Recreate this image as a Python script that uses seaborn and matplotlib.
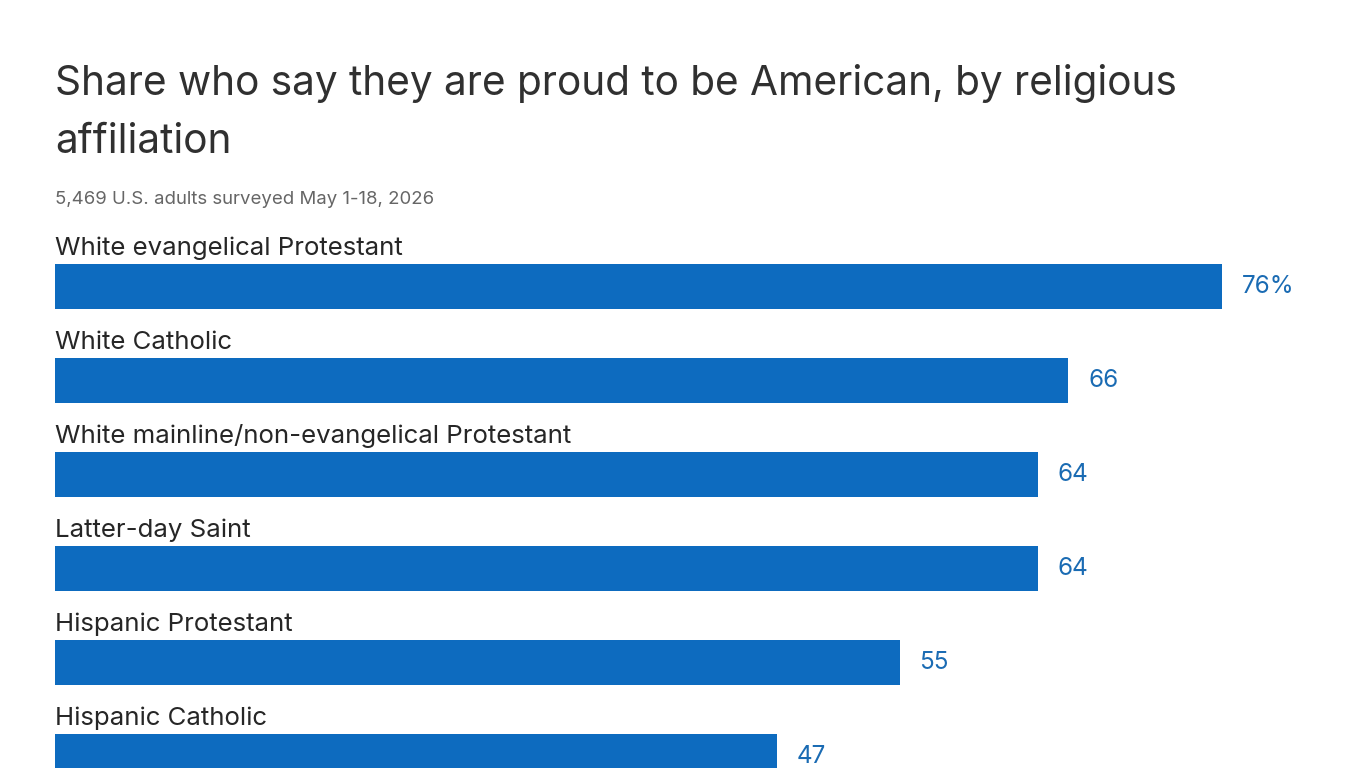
import pandas as pd
import matplotlib.pyplot as plt
import seaborn as sns

# --- data ---
groups = [
    "White evangelical Protestant",
    "White Catholic",
    "White mainline/non-evangelical Protestant",
    "Latter-day Saint",
    "Hispanic Protestant",
    "Hispanic Catholic",
]
shares = [76, 66, 64, 64, 55, 47]
value_labels = ["76%", "66", "64", "64", "55", "47"]

TITLE = "Share who say they are proud to be American, by religious\naffiliation"
SUBTITLE = "5,469 U.S. adults surveyed May 1-18, 2026"

BAR_COLOR = "#0d6bbf"
W, H = 1366, 768

sns.set_theme(style="white")
plt.rcParams['font.family'] = ['Inter', 'DejaVu Sans']

df = pd.DataFrame({"group": groups, "share": shares})

fig = plt.figure(figsize=(W / 100, H / 100), dpi=100)
fig.patch.set_facecolor("white")

# axes: x from pixel 55 to right edge, y from pixel 230 to bottom
left_px, top_px = 55, 230
ax = fig.add_axes([left_px / W, 0, 1 - left_px / W, 1 - top_px / H])

sns.barplot(data=df, x="share", y="group", order=groups, color=BAR_COLOR,
            orient="h", width=0.47, saturation=1, linewidth=0, ax=ax)

px_per_unit = 1167 / 76
ax.set_xlim(0, (W - left_px) / px_per_unit)
pitch = 94
ax.set_ylim((H - 286.5) / pitch, -(286.5 - top_px) / pitch)

for i, (g, v, lab) in enumerate(zip(groups, shares, value_labels)):
    ax.text(0, i - 0.33, g, ha="left", va="baseline", fontsize=18.6, color="#262626")
    ax.text(v + 20 / px_per_unit, i, lab, ha="left", va="center", fontsize=17.5,
            color="#1a6bb3")

ax.axis("off")

fig.text(left_px / W, 1 - 64 / H, TITLE, ha="left", va="top", fontsize=29.2,
         color="#303030", linespacing=1.66)
fig.text(left_px / W, 1 - 200 / H, SUBTITLE, ha="left", va="center", fontsize=13.4,
         color="#666666")

fig.savefig("out.png", dpi=100)
